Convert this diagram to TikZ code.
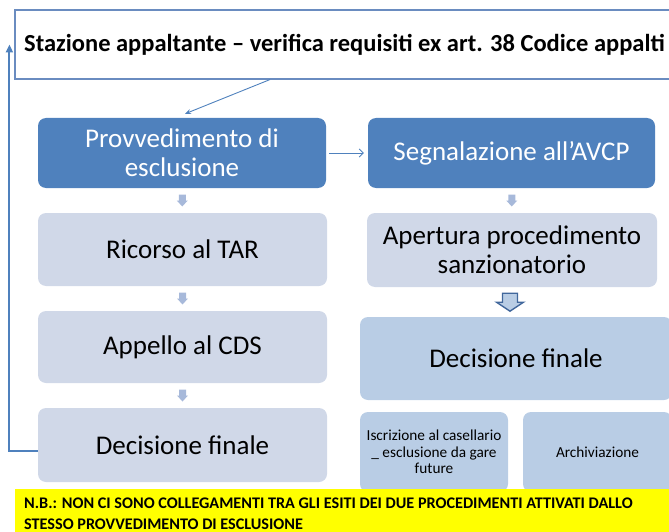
\documentclass[tikz,border=0pt]{standalone}
\usepackage{fontspec}
\setmainfont{Carlito}
\usetikzlibrary{arrows.meta,calc}
\definecolor{accent}{HTML}{4F81BD}
\definecolor{lightbox}{HTML}{D0D8E8}
\definecolor{midbox}{HTML}{B9CDE5}
\definecolor{smallarr}{HTML}{A7B9DA}
\definecolor{arrline}{HTML}{41679C}
\definecolor{topline}{HTML}{6A8CC0}
\definecolor{notefill}{HTML}{FFFF00}
\tikzset{
  box/.style={rounded corners=8pt, draw=none, inner sep=2pt, align=center, font=\fontsize{27}{29}\selectfont},
  darkbox/.style={box, fill=accent, text=white},
  lbox/.style={box, fill=lightbox, text=black},
  mbox/.style={box, fill=midbox, text=black},
  smallbox/.style={mbox, font=\fontsize{15.3}{16.7}\selectfont},
  thinarrow/.style={draw=accent, line width=0.9pt, -{Stealth[length=6pt,width=5pt]}},
  openarrow/.style={draw=accent, line width=0.8pt, -{Straight Barb[length=4pt,width=8pt]}},
  feedback/.style={draw=accent, line width=2pt, -{Triangle[length=8pt,width=7pt]}},
  smallarrow/.pic={\fill[smallarr] (-3.5,-6) -- (3.5,-6) -- (3.5,0) -- (5.5,0) -- (0,6) -- (-5.5,0) -- (-3.5,0) -- cycle;},
  bigarrow/.pic={\filldraw[fill=midbox, draw=arrline, line width=1.4pt, line join=miter] (-7.5,-9) -- (7.5,-9) -- (7.5,0) -- (13.5,0) -- (0,9) -- (-13.5,0) -- (-7.5,0) -- cycle;}
}
\begin{document}
\begin{tikzpicture}[x=1pt,y=-1pt]
\useasboundingbox (0,0) rectangle (669,532);
\node[draw=topline, line width=1.2pt, minimum width=659pt, minimum height=69pt, inner sep=0, font=\fontsize{24.5}{29}\bfseries\selectfont] (top) at (344.5,44.5) {Stazione appaltante – verifica requisiti ex art. 38 Codice appalti};

\node[darkbox, minimum width=288pt, minimum height=70pt] (prov) at (182,153) {Provvedimento di\\esclusione};
\node[darkbox, minimum width=287pt, minimum height=70pt] (segn) at (511.5,153) {Segnalazione all’AVCP};
\node[lbox, minimum width=289pt, minimum height=73pt] (ricorso) at (182.5,249.5) {Ricorso al TAR};
\node[lbox, minimum width=289pt, minimum height=72pt] (appello) at (182.5,347) {Appello al CDS};
\node[lbox, minimum width=289pt, minimum height=74pt] (decL) at (182.5,445) {Decisione finale};
\node[lbox, minimum width=290pt, minimum height=74pt] (apert) at (512,250) {Apertura procedimento\\sanzionatorio};
\node[mbox, minimum width=312pt, minimum height=83pt] (decR) at (516,358.5) {Decisione finale};
\node[smallbox, minimum width=148pt, minimum height=80pt] (iscr) at (434,452) {Iscrizione al casellario\\\_ esclusione da gare\\future};
\node[smallbox, minimum width=149pt, minimum height=80pt] (arch) at (597.5,452) {Archiviazione};

\node[fill=notefill, minimum width=660pt, minimum height=50pt, anchor=north west, inner sep=0] (note) at (15,489) {};
\node[anchor=base west, inner sep=0, font=\fontsize{16.2}{21}\bfseries\selectfont] (notetext) at (24,508) {\parbox[t]{640pt}{N.B.: NON CI SONO COLLEGAMENTI TRA GLI ESITI DEI DUE PROCEDIMENTI ATTIVATI DALLO\\STESSO PROVVEDIMENTO DI ESCLUSIONE}};

\draw[thinarrow] ($(top.south west)!0.387!(top.south east)$) -- ($(prov.north)+(3,-4)$);
\draw[openarrow] ($(prov.east)+(3,0)$) -- ($(segn.west)+(-4,0)$);
\draw[feedback] ($(decL.west)+(0,6)$) -| ($(top.west)+(-5,0)$);

\pic at ($(prov.south)!0.5!(ricorso.north)$) {smallarrow};
\pic at ($(ricorso.south)!0.5!(appello.north)$) {smallarrow};
\pic at ($(appello.south)!0.5!(decL.north)$) {smallarrow};
\pic at ($(segn.south)!0.5!(apert.north)$) {smallarrow};
\pic at ($(apert.south)+(-2,15)$) {bigarrow};
\end{tikzpicture}
\end{document}
